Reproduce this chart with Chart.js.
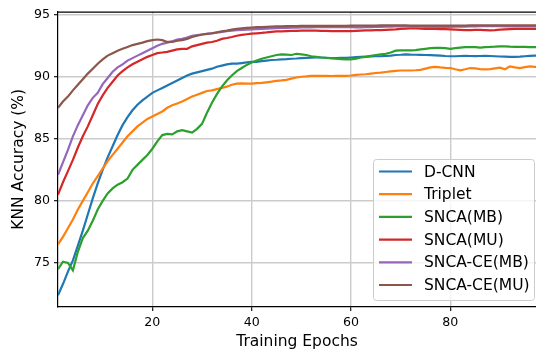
<!DOCTYPE html>
<html>
<head>
<meta charset="utf-8">
<script src="https://cdn.jsdelivr.net/npm/chart.js@4"></script>
<style>
html,body{margin:0;padding:0;background:#fff;}
#wrap{width:536px;height:350px;position:relative;}
</style>
</head>
<body>
<div id="wrap"><canvas id="c" width="536" height="350"></canvas></div>
<script>
const epochs = [1,2,3,4,5,6,7,8,9,10,11,12,13,14,15,16,17,18,19,20,21,22,23,24,25,26,27,28,29,30,31,32,33,34,35,36,37,38,39,40,41,42,43,44,45,46,47,48,49,50,51,52,53,54,55,56,57,58,59,60,61,62,63,64,65,66,67,68,69,70,71,72,73,74,75,76,77,78,79,80,81,82,83,84,85,86,87,88,89,90,91,92,93,94,95,96,97,98];

const seriesNames = ["D-CNN","Triplet","SNCA(MB)","SNCA(MU)","SNCA-CE(MB)","SNCA-CE(MU)"];

const dcnn = [72.4,73.3,74.3,75.2,76.4,77.6,78.9,80.2,81.4,82.5,83.5,84.4,85.3,86.1,86.75,87.3,87.75,88.1,88.4,88.7,88.9,89.1,89.3,89.5,89.7,89.9,90.1,90.25,90.35,90.45,90.55,90.65,90.8,90.9,91.0,91.05,91.05,91.1,91.15,91.2,91.2,91.25,91.3,91.35,91.37,91.4,91.42,91.45,91.47,91.5,91.52,91.53,91.55,91.55,91.53,91.5,91.5,91.52,91.52,91.55,91.58,91.6,91.62,91.63,91.65,91.65,91.68,91.7,91.75,91.77,91.8,91.78,91.77,91.76,91.75,91.74,91.72,91.7,91.67,91.65,91.65,91.67,91.68,91.67,91.66,91.67,91.68,91.67,91.65,91.63,91.62,91.6,91.6,91.62,91.65,91.68,91.7,91.7];

const triplet = [76.5,77.1,77.8,78.5,79.3,80.0,80.7,81.4,82.0,82.6,83.2,83.7,84.2,84.7,85.2,85.6,86.0,86.3,86.6,86.8,87.0,87.2,87.5,87.7,87.85,88.0,88.2,88.4,88.55,88.7,88.85,88.9,89.0,89.1,89.2,89.35,89.45,89.46,89.45,89.45,89.48,89.5,89.55,89.6,89.67,89.7,89.75,89.85,89.94,90.0,90.03,90.07,90.07,90.08,90.07,90.06,90.07,90.08,90.07,90.1,90.15,90.18,90.2,90.25,90.3,90.33,90.38,90.43,90.47,90.5,90.5,90.5,90.52,90.55,90.65,90.75,90.79,90.75,90.72,90.7,90.6,90.52,90.6,90.7,90.68,90.62,90.6,90.62,90.68,90.73,90.6,90.84,90.75,90.7,90.78,90.84,90.8,90.8];

const sncaMB = [74.5,75.1,75.0,74.4,75.9,77.0,77.6,78.4,79.3,80.0,80.6,81.0,81.3,81.5,81.8,82.5,82.9,83.3,83.7,84.2,84.8,85.3,85.4,85.35,85.6,85.7,85.6,85.5,85.8,86.2,87.1,87.9,88.6,89.2,89.7,90.1,90.45,90.7,90.95,91.15,91.3,91.45,91.55,91.65,91.75,91.8,91.78,91.75,91.85,91.8,91.75,91.65,91.6,91.55,91.52,91.5,91.45,91.42,91.4,91.4,91.45,91.55,91.6,91.68,91.75,91.8,91.85,91.95,92.1,92.12,92.12,92.12,92.15,92.2,92.25,92.3,92.33,92.32,92.3,92.25,92.3,92.35,92.38,92.39,92.38,92.35,92.39,92.4,92.42,92.45,92.45,92.42,92.4,92.4,92.4,92.38,92.38,92.38];

const sncaMU = [80.5,81.5,82.4,83.3,84.3,85.2,86.0,86.9,87.8,88.5,89.1,89.6,90.1,90.45,90.75,91.0,91.2,91.4,91.6,91.75,91.9,91.95,92.0,92.1,92.2,92.25,92.25,92.45,92.55,92.65,92.75,92.8,92.9,93.05,93.12,93.2,93.3,93.37,93.42,93.47,93.5,93.53,93.57,93.62,93.65,93.66,93.68,93.7,93.7,93.72,93.72,93.72,93.72,93.7,93.7,93.68,93.67,93.67,93.67,93.68,93.7,93.72,93.73,93.74,93.75,93.76,93.78,93.8,93.82,93.85,93.88,93.9,93.9,93.88,93.86,93.85,93.85,93.84,93.83,93.82,93.8,93.78,93.75,93.75,93.78,93.78,93.76,93.74,93.76,93.8,93.82,93.84,93.85,93.85,93.86,93.86,93.86,93.86];

const sncaCeMB = [82.1,83.1,84.1,85.2,86.1,86.9,87.7,88.3,88.7,89.4,89.9,90.4,90.75,91.0,91.3,91.5,91.7,91.9,92.1,92.3,92.5,92.65,92.75,92.85,93.0,93.05,93.15,93.3,93.35,93.4,93.45,93.5,93.55,93.62,93.67,93.72,93.75,93.78,93.8,93.82,93.84,93.86,93.88,93.9,93.92,93.93,93.94,93.95,93.96,93.97,93.98,93.98,93.99,94.0,94.0,94.0,94.0,94.0,94.0,93.99,93.98,93.98,93.99,94.0,94.01,94.02,94.03,94.04,94.05,94.05,94.05,94.05,94.04,94.03,94.02,94.02,94.02,94.02,94.02,94.02,94.03,94.03,94.04,94.05,94.06,94.07,94.08,94.08,94.08,94.07,94.06,94.05,94.05,94.05,94.05,94.05,94.05,94.05];

const sncaCeMU = [87.5,88.0,88.4,88.9,89.35,89.8,90.25,90.65,91.05,91.4,91.7,91.9,92.1,92.25,92.4,92.55,92.65,92.75,92.87,92.95,93.0,92.95,92.8,92.8,92.9,92.95,93.05,93.2,93.3,93.4,93.45,93.5,93.58,93.65,93.72,93.8,93.85,93.9,93.93,93.96,93.99,94.0,94.02,94.04,94.05,94.06,94.07,94.08,94.08,94.09,94.09,94.1,94.1,94.1,94.1,94.09,94.09,94.1,94.1,94.11,94.12,94.12,94.12,94.12,94.12,94.13,94.13,94.14,94.14,94.14,94.13,94.12,94.12,94.12,94.12,94.12,94.12,94.12,94.12,94.12,94.12,94.12,94.12,94.13,94.13,94.14,94.14,94.14,94.14,94.13,94.13,94.13,94.13,94.13,94.13,94.13,94.13,94.13];

const xTicks = [20,40,60,80];
const yTicks = [75,80,85,90,95];
const colors = ["#1f77b4","#ff7f0e","#2ca02c","#d62728","#9467bd","#8c564b"];

const values = [dcnn, triplet, sncaMB, sncaMU, sncaCeMB, sncaCeMU];
const FONT = "'DejaVu Sans', sans-serif";

const datasets = values.map((v, i) => ({
  label: seriesNames[i],
  data: epochs.map((e, j) => ({x: e, y: v[j]})),
  borderColor: colors[i],
  backgroundColor: colors[i],
  borderWidth: 2.2,
  pointRadius: 0,
  tension: 0,
  fill: false,
  order: values.length - 1 - i
}));

const frameAndLegend = {
  id: 'frameAndLegend',
  afterDatasetsDraw(chart) {
    const ctx = chart.ctx;
    const a = chart.chartArea;
    ctx.save();
    ctx.strokeStyle = '#000';
    ctx.lineWidth = 1.2;
    ctx.beginPath();
    ctx.moveTo(a.left, a.top + 0.5);
    ctx.lineTo(a.right, a.top + 0.5);
    ctx.stroke();
    const bx = 373.5, by = 159.5, bw = 161, bh = 141, r = 3;
    ctx.globalAlpha = 0.8;
    ctx.fillStyle = '#fff';
    ctx.beginPath();
    ctx.roundRect(bx, by, bw, bh, r);
    ctx.fill();
    ctx.globalAlpha = 1;
    ctx.strokeStyle = '#cccccc';
    ctx.lineWidth = 1;
    ctx.stroke();
    ctx.font = "15.5px " + FONT;
    ctx.textBaseline = 'middle';
    ctx.textAlign = 'left';
    chart.data.datasets.forEach((ds, i) => {
      const y = 171.5 + i * 22.7;
      ctx.strokeStyle = ds.borderColor;
      ctx.lineWidth = 2.2;
      ctx.beginPath();
      ctx.moveTo(379, y);
      ctx.lineTo(412, y);
      ctx.stroke();
      ctx.fillStyle = '#000';
      ctx.fillText(ds.label, 424, y + 1);
    });
    ctx.restore();
  }
};

new Chart(document.getElementById('c'), {
  type: 'line',
  data: { datasets },
  options: {
    responsive: false,
    animation: false,
    devicePixelRatio: 1,
    layout: { padding: { top: 9, right: 0, left: 0, bottom: 0 } },
    plugins: { legend: { display: false }, tooltip: { enabled: false } },
    scales: {
      x: {
        type: 'linear',
        min: 1,
        max: 97.25,
        afterBuildTicks: (s) => { s.ticks = xTicks.map(v => ({value: v})); },
        afterFit: (s) => { s.height = 43; },
        ticks: { font: { family: FONT, size: 12.6 }, color: '#000', padding: 4, maxRotation: 0 },
        grid: { color: '#cbcbcb', lineWidth: 1.4, tickColor: '#000', tickLength: 4, tickWidth: 1.1 },
        border: { color: '#000', width: 1.2 },
        title: { display: true, text: 'Training Epochs', color: '#000', font: { family: FONT, size: 15.5, lineHeight: 1.0 }, padding: 0 }
      },
      y: {
        type: 'linear',
        min: 71.45,
        max: 95.25,
        afterBuildTicks: (s) => { s.ticks = yTicks.map(v => ({value: v})); },
        afterFit: (s) => { s.width = 58; },
        ticks: { font: { family: FONT, size: 12.6 }, color: '#000', padding: 4 },
        grid: { color: '#cbcbcb', lineWidth: 1.4, tickColor: '#000', tickLength: 4, tickWidth: 1.1 },
        border: { color: '#000', width: 1.2 },
        title: { display: true, text: 'KNN Accuracy (%)', color: '#000', font: { family: FONT, size: 15.5, lineHeight: 1.2 }, padding: { top: 10, bottom: 0 } }
      }
    }
  },
  plugins: [frameAndLegend]
});
</script>
</body>
</html>
